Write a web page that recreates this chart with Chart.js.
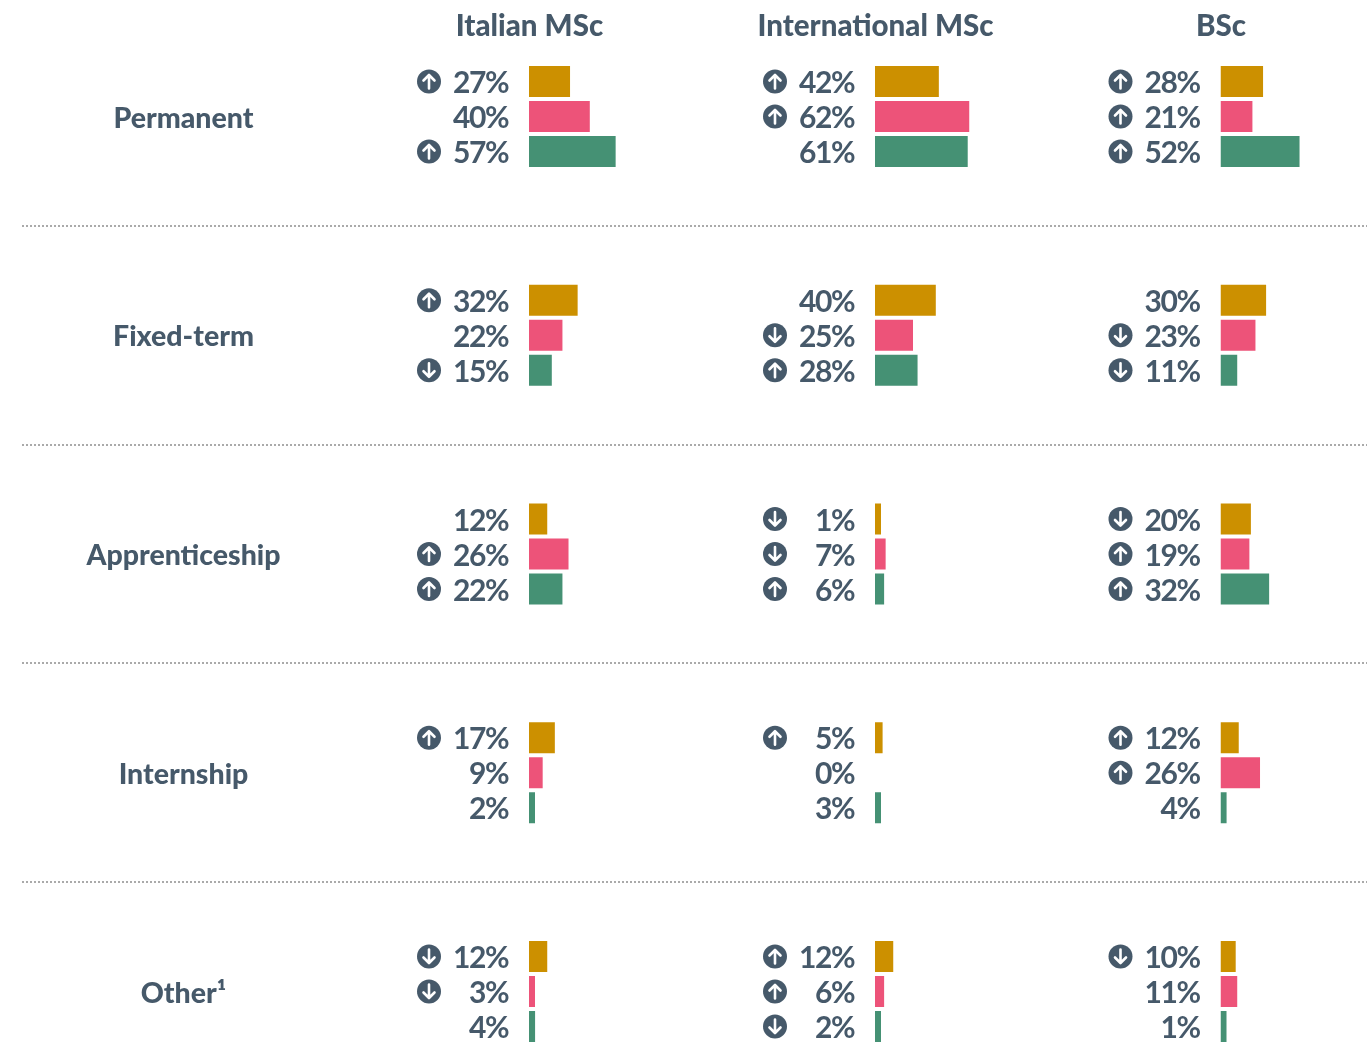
<!DOCTYPE html>
<html>
<head>
<meta charset="utf-8">
<title>Contract types</title>
<script src="https://cdn.jsdelivr.net/npm/chart.js@4"></script>
<style>
    html, body { margin: 0; padding: 0; background: #fff; }
    #page { position: relative; width: 1367px; height: 1043px; overflow: hidden; }
    #page div { position: absolute; top: 0; height: 1110px; }
</style>
</head>
<body>
<div id="page">
    <div style="left:0; width:1367px"><canvas id="italian"></canvas></div>
    <div style="left:745px; width:300px"><canvas id="international"></canvas></div>
    <div style="left:1091px; width:300px"><canvas id="bsc"></canvas></div>
</div>
<script>
const categories = ['Permanent', 'Fixed-term', 'Apprenticeship', 'Internship', 'Other¹'];
const tickLabels = ['Italian MSc', 'International MSc', 'BSc'];
const seriesNames = ['Gold', 'Pink', 'Green'];
const seriesColors = ['#cc9000', '#ed5379', '#459174'];

// values in %
const italianGold = [27, 32, 12, 17, 12];
const italianPink = [40, 22, 26, 9, 3];
const italianGreen = [57, 15, 22, 2, 4];
const internationalGold = [42, 40, 1, 5, 12];
const internationalPink = [62, 25, 7, 0, 6];
const internationalGreen = [61, 28, 6, 3, 2];
const bscGold = [28, 30, 20, 12, 10];
const bscPink = [21, 23, 19, 26, 11];
const bscGreen = [52, 11, 32, 4, 1];

// arrows: 1 up, -1 down, 0 none
const italianGoldTrend = [1, 1, 0, 1, -1];
const italianPinkTrend = [0, 0, 1, 0, -1];
const italianGreenTrend = [1, -1, 1, 0, 0];
const internationalGoldTrend = [1, 0, -1, 1, 1];
const internationalPinkTrend = [1, -1, -1, 0, 1];
const internationalGreenTrend = [0, 1, 1, 0, -1];
const bscGoldTrend = [1, 0, -1, 1, -1];
const bscPinkTrend = [1, -1, 1, 1, 0];
const bscGreenTrend = [1, -1, 1, 0, 0];

const textColor = '#46596a';
const fontName = 'Lato';

function drawArrow(c, x, y, dir) {
    c.save();
    c.fillStyle = textColor;
    c.beginPath();
    c.arc(x, y, 12, 0, Math.PI * 2);
    c.fill();
    c.strokeStyle = '#fff';
    c.lineWidth = 2.6;
    c.lineCap = 'round';
    c.lineJoin = 'round';
    c.beginPath();
    c.moveTo(x, y + 7 * dir);
    c.lineTo(x, y - 6 * dir);
    c.moveTo(x - 5.5, y - 1 * dir);
    c.lineTo(x, y - 6.5 * dir);
    c.lineTo(x + 5.5, y - 1 * dir);
    c.stroke();
    c.restore();
}

// value labels and arrows left of the bars, column header on top
const columnPlugin = {
    id: 'columnPlugin',
    afterDatasetsDraw(chart, args, opts) {
        const c = chart.ctx;
        const x0 = chart.scales.x.getPixelForValue(0);
        c.save();
        c.fillStyle = textColor;
        c.textBaseline = 'middle';
        chart.data.datasets.forEach((ds, i) => {
            const bars = chart.getDatasetMeta(i).data;
            ds.data.forEach((v, j) => {
                const y = bars[j].y;
                c.font = '700 30px ' + fontName;
                c.letterSpacing = '-1.5px';
                c.textAlign = 'right';
                c.fillText(v + '%', x0 - 21, y + 2);
                if (ds.trend[j] !== 0) drawArrow(c, x0 - 100, y, ds.trend[j]);
            });
        });
        c.letterSpacing = '0px';
        c.font = '900 29.5px ' + fontName;
        c.textAlign = 'center';
        c.fillText(opts.title, x0 + 0.5, 26);
        c.restore();
    }
};

// row names and dotted separators, only on the first chart
const rowPlugin = {
    id: 'rowPlugin',
    beforeDraw(chart) {
        const c = chart.ctx;
        const y = chart.scales.y;
        const band = y.getPixelForValue(1) - y.getPixelForValue(0);
        c.save();
        c.strokeStyle = '#aaaaaa';
        c.lineWidth = 2;
        c.setLineDash([2, 2]);
        categories.forEach((name, i) => {
            if (i === categories.length - 1) return;
            const sep = Math.round(y.getPixelForValue(i) + band / 2);
            c.beginPath();
            c.moveTo(22, sep);
            c.lineTo(1367, sep);
            c.stroke();
        });
        c.fillStyle = textColor;
        c.font = '900 28.5px ' + fontName;
        c.textAlign = 'center';
        c.textBaseline = 'middle';
        categories.forEach((name, i) => {
            c.fillText(name, 183.5, y.getPixelForValue(i) + 2);
        });
        c.restore();
    }
};

function makeChart(id, title, left, right, values, trends, extra) {
    new Chart(document.getElementById(id), {
        type: 'bar',
        data: {
            labels: categories,
            datasets: values.map((v, i) => ({
                label: seriesNames[i],
                data: v,
                trend: trends[i],
                // zero values keep their label but show no bar
                backgroundColor: (ctx) => ctx.raw === 0 ? 'rgba(0,0,0,0)' : seriesColors[i],
                borderWidth: 0,
                minBarLength: 6,
                categoryPercentage: 0.48,
                barPercentage: 0.886
            }))
        },
        options: {
            indexAxis: 'y',
            responsive: true,
            maintainAspectRatio: false,
            animation: false,
            layout: { padding: { left: left, right: right, top: 7.125, bottom: 9.125 } },
            scales: {
                x: { display: false, min: 0, max: 100 },
                y: { display: false }
            },
            plugins: {
                legend: { display: false },
                tooltip: { enabled: false },
                columnPlugin: { title: title }
            }
        },
        plugins: extra
    });
}

makeChart('italian', tickLabels[0], 529, 686,
    [italianGold, italianPink, italianGreen],
    [italianGoldTrend, italianPinkTrend, italianGreenTrend],
    [rowPlugin, columnPlugin]);
makeChart('international', tickLabels[1], 130, 18,
    [internationalGold, internationalPink, internationalGreen],
    [internationalGoldTrend, internationalPinkTrend, internationalGreenTrend],
    [columnPlugin]);
makeChart('bsc', tickLabels[2], 129.5, 18.5,
    [bscGold, bscPink, bscGreen],
    [bscGoldTrend, bscPinkTrend, bscGreenTrend],
    [columnPlugin]);
</script>
</body>
</html>
